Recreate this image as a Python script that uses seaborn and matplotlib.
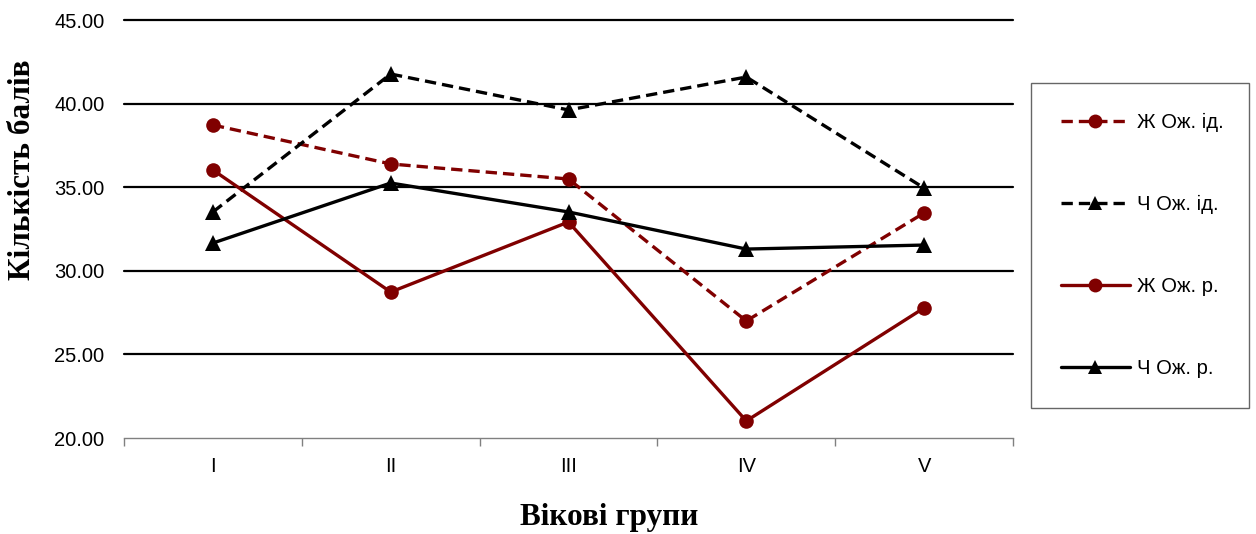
import matplotlib
matplotlib.use("Agg")
import matplotlib.pyplot as plt
from matplotlib.lines import Line2D
from matplotlib.ticker import FixedLocator, FuncFormatter
import numpy as np
import pandas as pd
import seaborn as sns

# Age groups and mean scores per series
groups = ["I", "II", "III", "IV", "V"]
zh_ideal = [38.72, 36.39, 35.49, 27.00, 33.46]
ch_ideal = [33.52, 41.77, 39.62, 41.59, 34.95]
zh_real = [36.03, 28.73, 32.92, 21.02, 27.78]
ch_real = [31.66, 35.25, 33.52, 31.30, 31.54]

series_names = ["Ж Ож. ід.", "Ч Ож. ід.", "Ж Ож. р.", "Ч Ож. р."]
series_values = [zh_ideal, ch_ideal, zh_real, ch_real]

rows = []
for name, vals in zip(series_names, series_values):
    for i, v in enumerate(vals):
        rows.append({"pos": i, "group": groups[i], "series": name, "value": v})
df = pd.DataFrame(rows)

sns.set_theme(style="white")
plt.rcParams["font.family"] = ["Liberation Sans", "DejaVu Sans"]
plt.rcParams["text.color"] = "black"
plt.rcParams["xtick.color"] = "black"
plt.rcParams["ytick.color"] = "black"

DARK_RED = "#800000"
BLACK = "#000000"
dash = (3.4, 1.8)
styles = {
    "Ж Ож. ід.": dict(color=DARK_RED, marker="o", ls=(0, dash), ms=10.5),
    "Ч Ож. ід.": dict(color=BLACK, marker="^", ls=(0, dash), ms=11),
    "Ж Ож. р.": dict(color=DARK_RED, marker="o", ls="-", ms=10.5),
    "Ч Ож. р.": dict(color=BLACK, marker="^", ls="-", ms=11),
}

fig = plt.figure(figsize=(12.56, 5.34), dpi=100)
ax = fig.add_axes([124 / 1256, 96 / 534, 889 / 1256, 418 / 534])

for name in series_names:
    st = styles[name]
    sub = df[df["series"] == name]
    sns.lineplot(data=sub, x="pos", y="value", ax=ax, color=st["color"],
                 marker=st["marker"], markersize=st["ms"], markeredgewidth=0,
                 linewidth=2.4, linestyle=st["ls"], legend=False,
                 estimator=None, sort=False, clip_on=False, zorder=3)

ax.set_xlim(-0.5, 4.5)
ax.set_ylim(20, 45)

# horizontal gridlines
for y in [25, 30, 35, 40, 45]:
    ax.axhline(y, color="black", lw=1.6, zorder=1, clip_on=False)

for side in ["left", "right", "top"]:
    ax.spines[side].set_visible(False)
ax.spines["bottom"].set_color("#808080")
ax.spines["bottom"].set_linewidth(1.0)

ax.set_yticks([20, 25, 30, 35, 40, 45])
ax.yaxis.set_major_formatter(FuncFormatter(lambda v, p: f"{v:.2f}"))
ax.tick_params(axis="y", length=0, pad=14, labelsize=14.5, labelcolor="black")

ax.set_xticks(range(len(groups)))
ax.set_xticklabels(groups)
ax.xaxis.set_minor_locator(FixedLocator(np.arange(-0.5, 4.6, 1.0)))
ax.tick_params(axis="x", which="major", length=0, pad=14, labelsize=14.5,
               labelcolor="black")
ax.tick_params(axis="x", which="minor", length=6, width=1.0,
               color="#808080", direction="out", bottom=True)

ax.set_xlabel("")
ax.set_ylabel("")
ax.grid(False)

fig.text(609 / 1256, 1 - 518 / 534, "Вікові групи", ha="center", va="center",
         fontsize=22.5, fontweight="bold", color="black",
         family=["Liberation Serif", "DejaVu Serif"])
fig.text(23 / 1256, 1 - 170 / 534, "Кількість балів", ha="center", va="center",
         rotation=90, fontsize=22.5, fontweight="bold", color="black",
         family=["Liberation Serif", "DejaVu Serif"])

handles = []
for name in series_names:
    st = styles[name]
    handles.append(Line2D([], [], color=st["color"], marker=st["marker"],
                          markersize=10, markeredgewidth=0, linewidth=2.4,
                          linestyle=st["ls"]))

leg = fig.legend(handles, series_names, loc="center",
                 bbox_to_anchor=(1031 / 1256, 1 - 408 / 534, 218 / 1256, 325 / 534),
                 mode="expand", frameon=True, fancybox=False, fontsize=14.5,
                 handlelength=3.4, handletextpad=0.35, labelspacing=3.12,
                 borderpad=1.5, numpoints=1, borderaxespad=0)
leg.get_frame().set_edgecolor("#404040")
leg.get_frame().set_linewidth(1.0)
for t in leg.get_texts():
    t.set_color("black")

fig.savefig("out.png", dpi=100)
